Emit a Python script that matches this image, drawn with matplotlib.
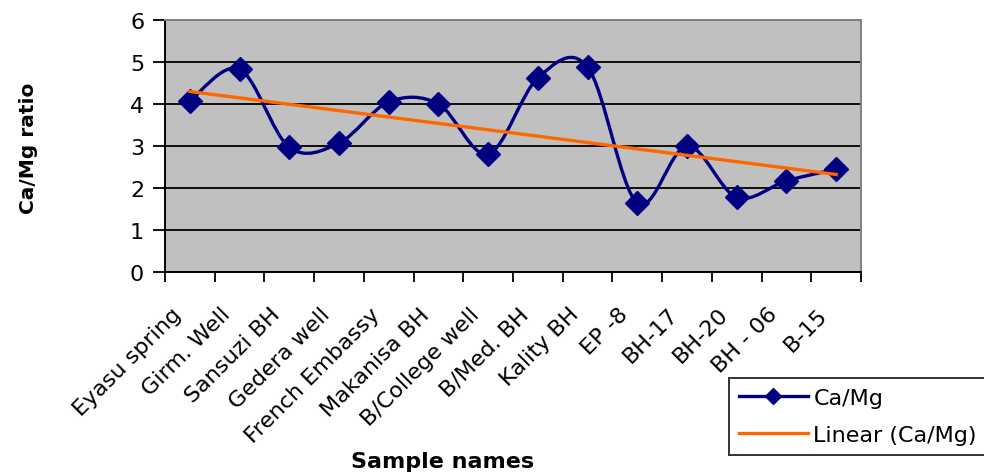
import numpy as np
import matplotlib
matplotlib.use("Agg")
import matplotlib.pyplot as plt
from matplotlib.path import Path
from matplotlib.patches import PathPatch
from matplotlib.lines import Line2D

plt.rcParams['font.family'] = ['DejaVu Sans']

samples = ["Eyasu spring", "Girm. Well", "Sansuzi BH", "Gedera well", "French Embassy",
           "Makanisa BH", "B/College well", "B/Med. BH", "Kality BH", "EP -8",
           "BH-17", "BH-20", "BH - 06", "B-15"]
ca_mg = [4.07, 4.83, 2.97, 3.07, 4.05, 4.00, 2.81, 4.62, 4.88, 1.64, 3.00, 1.78, 2.17, 2.45]
yticks = [0, 1, 2, 3, 4, 5, 6]

NAVY = "#000080"
ORANGE = "#FF6600"

fig = plt.figure(figsize=(9.84, 4.77), dpi=100)
ax = fig.add_axes([165/984, 1-273/477, (861-165)/984, (273-21)/477])
ax.set_facecolor("#C0C0C0")

x = np.arange(1, len(ca_mg) + 1, dtype=float)
y = np.array(ca_mg)

# smoothed line (Excel-style Bezier through the data points)
verts = [(x[0], y[0])]
codes = [Path.MOVETO]
n = len(x)
for i in range(n - 1):
    p0 = np.array([x[max(i-1, 0)], y[max(i-1, 0)]])
    p1 = np.array([x[i], y[i]])
    p2 = np.array([x[i+1], y[i+1]])
    p3 = np.array([x[min(i+2, n-1)], y[min(i+2, n-1)]])
    c1 = p1 + (p2 - p0) / 6.0
    c2 = p2 - (p3 - p1) / 6.0
    verts += [tuple(c1), tuple(c2), tuple(p2)]
    codes += [Path.CURVE4] * 3
ax.add_patch(PathPatch(Path(verts, codes), facecolor="none", edgecolor=NAVY,
                       lw=2.4, zorder=3, capstyle="round", joinstyle="round"))
ax.plot(x, y, linestyle="none", marker="D", markersize=12.5, color=NAVY, zorder=4)

# linear trend
coef = np.polyfit(x, y, 1)
ax.plot([x[0], x[-1]], np.polyval(coef, [x[0], x[-1]]), color=ORANGE, lw=2.4, zorder=5)

ax.set_xlim(0.5, len(ca_mg) + 0.5)
ax.set_ylim(0, 6)
ax.set_yticks(yticks)
ax.set_yticklabels([str(v) for v in yticks], fontsize=16)
ax.yaxis.grid(True, color="black", lw=1.3)
ax.set_axisbelow(True)

ax.set_xticks(np.arange(0.5, len(ca_mg) + 1, 1.0))
ax.set_xticklabels([])
ax.set_xticks(x - 0.16, minor=True)
ax.set_xticklabels(samples, minor=True, rotation=45, ha="right", va="baseline",
                   rotation_mode="anchor", fontsize=16)
ax.tick_params(axis="x", which="major", direction="out", length=7, width=1.3, color="black")
ax.tick_params(axis="x", which="minor", length=0, pad=31)
ax.tick_params(axis="y", direction="out", length=9, width=1.3, color="black", pad=6)

for s in ["left", "bottom"]:
    ax.spines[s].set_color("black")
    ax.spines[s].set_linewidth(1.4)
for s in ["top", "right"]:
    ax.spines[s].set_color("#808080")
    ax.spines[s].set_linewidth(1.4)

fig.text(28/984, 1-148/477, "Ca/Mg ratio", rotation=90, ha="center", va="center",
         fontsize=14.5, fontweight="bold")
fig.text(443/984, 1-462/477, "Sample names", ha="center", va="center",
         fontsize=16, fontweight="bold")

handles = [Line2D([], [], color=NAVY, lw=2.4, marker="D", markersize=8),
           Line2D([], [], color=ORANGE, lw=2.4)]
leg = fig.legend(handles, ["Ca/Mg", "Linear (Ca/Mg)"], loc="upper left",
                 bbox_to_anchor=(729/984, 1-379/477), bbox_transform=fig.transFigure,
                 fontsize=16, frameon=True, fancybox=False, borderaxespad=0,
                 handlelength=3.1, handletextpad=0.25, labelspacing=0.75,
                 borderpad=0.45)
leg.get_frame().set_edgecolor("black")
leg.get_frame().set_linewidth(1.4)

fig.savefig("out.png", dpi=100)
